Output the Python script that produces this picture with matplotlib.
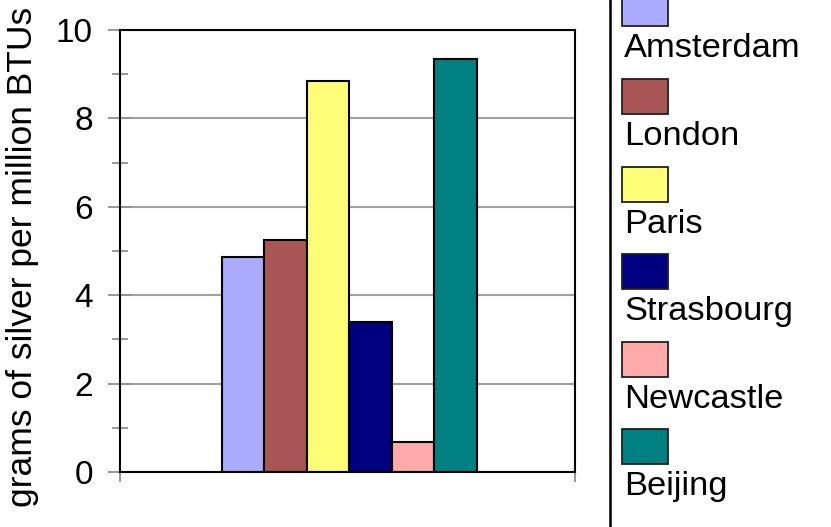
import matplotlib
matplotlib.use("Agg")
from matplotlib import pyplot as plt
from matplotlib.patches import Rectangle
import numpy as np

# dados
cidades = ["Amsterdam", "London", "Paris", "Strasbourg", "Newcastle", "Beijing"]
valores = [4.87, 5.25, 8.85, 3.39, 0.69, 9.34]
cores = ["#AAAAFF", "#AA5555", "#FFFF77", "#000080", "#FFAAAA", "#008080"]
ylabel = "grams of silver per million BTUs"

plt.rcParams["font.family"] = ["Liberation Sans", "DejaVu Sans"]

W, H = 831, 527
fig = plt.figure(figsize=(W / 100, H / 100), dpi=100)

# eixo principal (pixels: x 120..575, y 30..472)
ax = fig.add_axes([120 / W, 1 - 472 / H, 455 / W, 442 / H])
x = np.arange(len(valores))
ax.bar(x, valores, width=1.0, color=cores, edgecolor="black", linewidth=1.5, zorder=3)

ax.set_ylim(0, 10)
ax.set_xlim(-2.89, 7.81)
ax.set_yticks([0, 2, 4, 6, 8, 10])
ax.set_yticks([1, 3, 5, 7, 9], minor=True)
ax.set_xticks([-2.89, 7.81])
ax.set_xticklabels([])
ax.grid(axis="y", color="#A0A0A0", linewidth=1.5, zorder=0)
for s in ax.spines.values():
    s.set_color("black")
    s.set_linewidth(1.5)
    s.set_zorder(4)

ax.tick_params(axis="y", which="major", direction="inout", length=17, width=1.3,
               color="#909090", labelsize=24, pad=11)
ax.tick_params(axis="y", which="minor", direction="inout", length=11, width=1.3,
               color="#909090")
ax.tick_params(axis="x", direction="inout", length=14, width=1.3, color="#909090")

fig.text(23 / W, 1 - 257 / H, ylabel, rotation=90, ha="center", va="center", fontsize=25.5)

# legenda desenhada a mao
lax = fig.add_axes([0, 0, 1, 1])
lax.set_xlim(0, W)
lax.set_ylim(H, 0)
lax.axis("off")
lax.plot([610, 610], [0, H], color="black", linewidth=1.8)
for i, (nome, cor) in enumerate(zip(cidades, cores)):
    topo = -8.6 + i * 87.6
    lax.add_patch(Rectangle((622, topo), 46, 35, facecolor=cor, edgecolor="#202020", linewidth=1.3))
    lax.text(624, topo + 66, nome, fontsize=24.8, ha="left", va="baseline")

fig.savefig("out.png", dpi=100)
